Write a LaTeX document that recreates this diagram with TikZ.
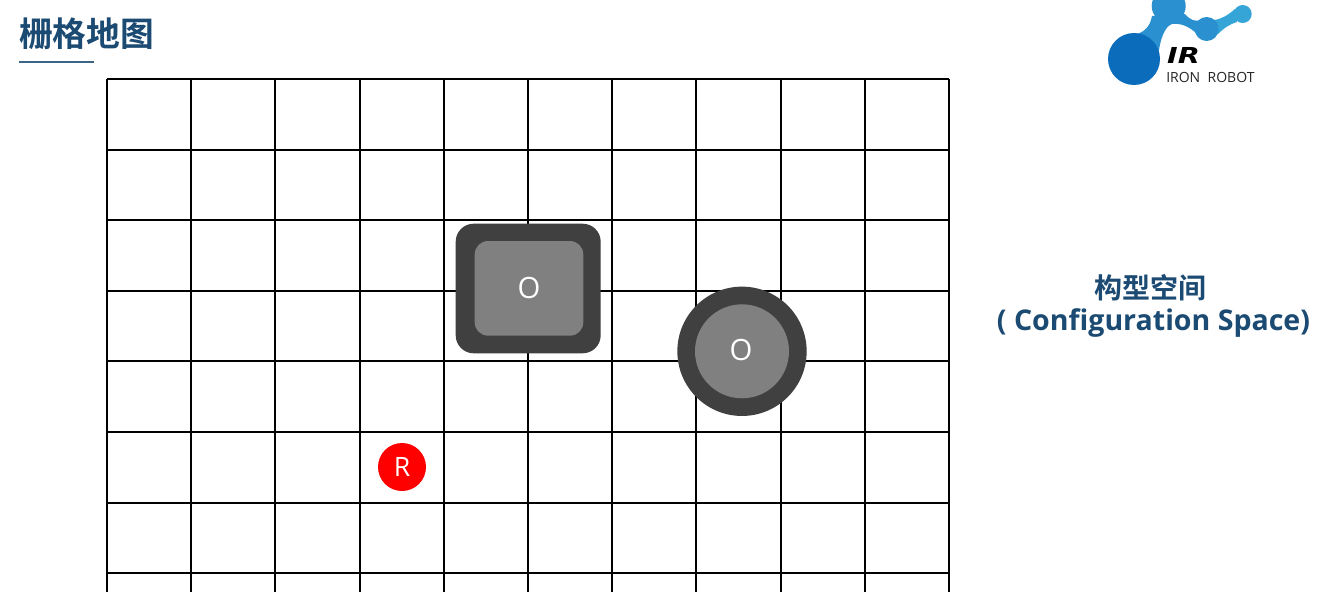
\documentclass[tikz,border=0pt]{standalone}
\usepackage{fontspec}
\setmainfont{Open Sans}
\newfontfamily\cjkfont{Noto Sans CJK SC}[BoldFont={Noto Sans CJK SC Bold}]
\newfontfamily\logofont{DejaVu Sans}
\usetikzlibrary{positioning}
\definecolor{titleblue}{HTML}{1B4A72}
\definecolor{obsdark}{HTML}{404040}
\definecolor{obsgray}{HTML}{808080}
\definecolor{logodeep}{HTML}{0B6CBB}
\definecolor{logomid}{HTML}{2A90CF}
\definecolor{logolight}{HTML}{35A5D8}
\tikzset{
	gridline/.style={line width=1.5pt, black},
	obstext/.style={text=white, font=\fontsize{22}{26}\selectfont},
	blob/.style={circle, inner sep=0pt, fill=#1}
}
\begin{document}
\begin{tikzpicture}[x=0.75pt, y=-0.75pt]
	\useasboundingbox (0,0) rectangle (1317,592);
	\fill[white] (0,0) rectangle (1317,592);

	% Draw the title
	\node[anchor=west, text=titleblue, font=\cjkfont\bfseries\fontsize{25.3}{30}\selectfont, inner sep=0pt] (title) at (19,34) {栅格地图};
	\coordinate (ruleL) at (19,62);
	\coordinate (ruleR) at (94,62);
	\draw[line width=1pt, titleblue!85] (ruleL) -- (ruleR);

	% Draw the grid
	\foreach \i in {0,...,10}
		\draw[gridline] (107+84.2*\i,79) -- (107+84.2*\i,592);
	\foreach \j in {0,...,7}
		\draw[gridline] (107,79+70.6*\j) -- (949,79+70.6*\j);

	% Draw the square obstacle
	\draw[fill=obsdark, draw=none, rounded corners=13.5pt] (455.7,223.7) rectangle (600.7,353.3);
	\draw[fill=obsgray, draw=none, rounded corners=10pt] (474.7,241) rectangle (583.3,335.7);
	\node[obstext] (squareO) at (529,288) {O};

	% Draw the round obstacle
	\node[blob=obsdark, minimum size=97pt] (roundOuter) at (742,351.3) {};
	\node[blob=obsgray, minimum size=70.5pt] (roundInner) at (742,351.3) {};
	\node[obstext] (roundO) at (741,350.5) {O};

	% Draw the robot
	\node[blob=red, minimum size=36pt, text=white, font=\fontsize{20}{24}\selectfont] (robot) at (402,467) {R};

	% Draw the side label
	\node[text=titleblue, font=\cjkfont\bfseries\fontsize{21}{26}\selectfont, inner sep=0pt] (spaceCn) at (1150,288) {构型空间};
	\node[text=titleblue, font=\bfseries\fontsize{21.4}{25}\selectfont, inner sep=0pt] (spaceEn) at (1153.5,323) {( Configuration Space)};

	% Draw the logo
	\begin{scope}
		\clip (1090,0) rectangle (1280,95);
		\fill[logomid] (1133,35) .. controls (1144,33) and (1150,27) .. (1152,16)
			-- (1185,14) .. controls (1190,20) and (1195,22) .. (1201,20)
			-- (1197,34) .. controls (1189,26) and (1180,23) .. (1172,24)
			.. controls (1166,26) and (1160,36) .. (1158,58) -- cycle;
		\fill[logolight] (1214,20) .. controls (1222,19) and (1228,15) .. (1235,9)
			-- (1237,22) .. controls (1230,24) and (1224,28) .. (1218,34) -- cycle;
		\node[blob=logomid, minimum size=25.5pt] (logoTop) at (1168.7,6) {};
		\node[blob=logomid, minimum size=18pt] (logoMid) at (1206.7,29) {};
		\node[blob=logolight, minimum size=13.5pt] (logoEnd) at (1242.7,14) {};
		\node[blob=logodeep, minimum size=39pt] (logoBig) at (1134,59) {};
	\end{scope}
	\node[text=black, font=\logofont\bfseries\itshape\fontsize{16.5}{20}\selectfont, inner sep=0pt, xscale=1.3] (logoIR) at (1183.5,55) {IR};
	\node[anchor=west, text=black!85, font=\fontsize{10.5}{12}\selectfont, inner sep=0pt] (logoName) at (1166,77.5) {IRON\hspace{5.5pt}ROBOT};
\end{tikzpicture}
\end{document}
